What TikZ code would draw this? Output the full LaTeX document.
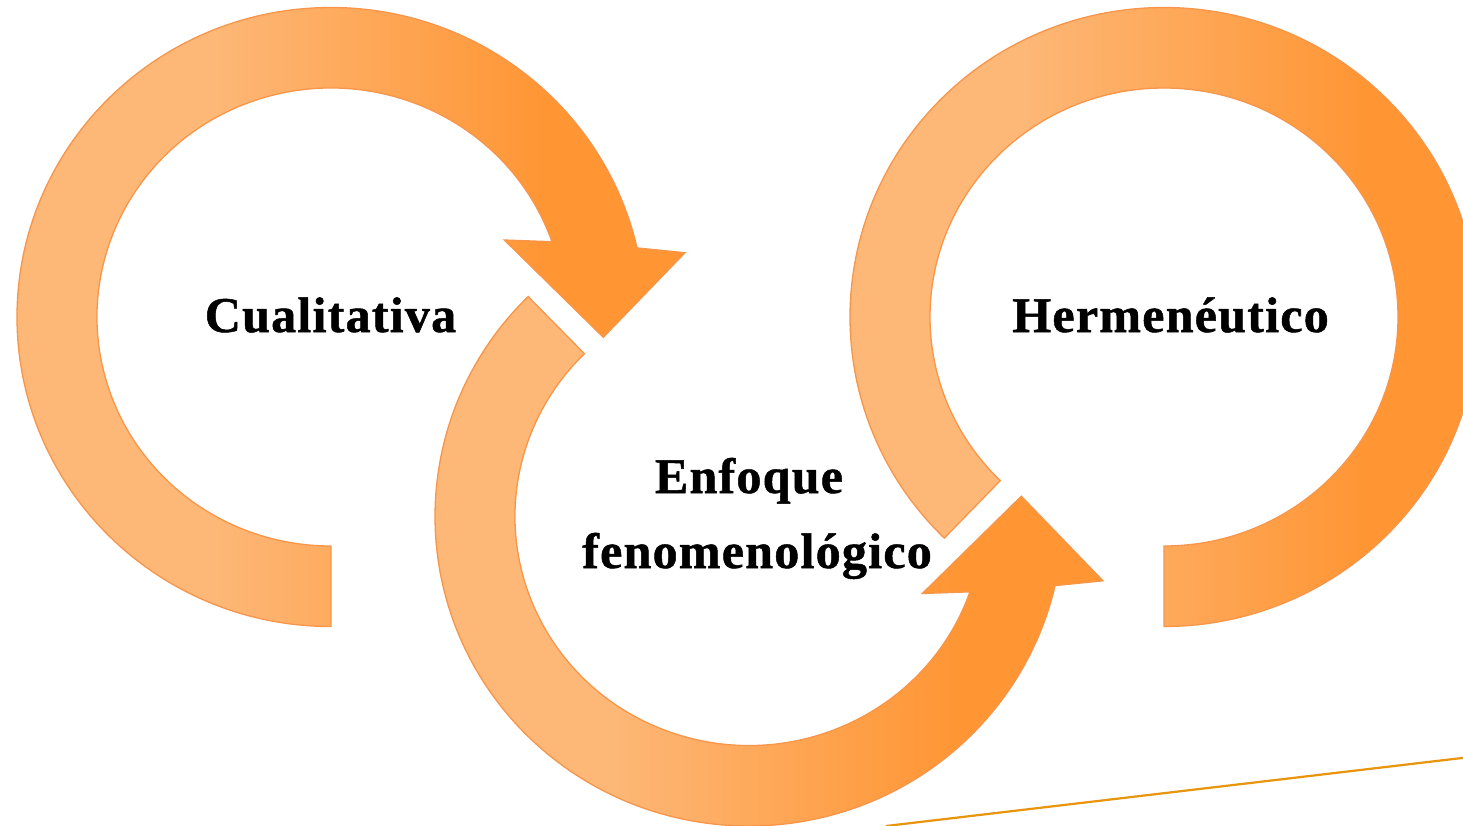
\documentclass[tikz,border=0pt]{standalone}
\usepackage{fontspec}
\newfontfamily\lblfont{Liberation Serif}[LetterSpace=2.5,FakeBold=1]
\definecolor{orlight}{HTML}{FDB776}
\definecolor{ordark}{HTML}{FF9533}
\definecolor{orline}{HTML}{F7964A}
\definecolor{strayor}{HTML}{E8940C}
\pgfdeclarehorizontalshading{orshade}{100bp}{color(0bp)=(orlight); color(40bp)=(orlight); color(65bp)=(ordark); color(100bp)=(ordark)}
\begin{document}
\begin{tikzpicture}[x=1pt,y=-1pt,
  ring/.style={shade, shading=orshade, draw=orline, line width=1.3pt, line join=miter},
  lbl/.style={font=\lblfont\bfseries\fontsize{50}{75}\selectfont, text=black, inner sep=0pt},
  strayline/.style={draw=strayor, line width=2.2pt}]
\useasboundingbox (0,0) rectangle (1463,825);
\fill[white] (0,0) rectangle (1463,825);
\clip (0,0) rectangle (1463,825);

% arrow 1 (left)
\begin{scope}[shift={(331,317)}]
\path[ring] (90:314 and 309.5) arc[start angle=90, end angle=347.1, x radius=314, y radius=309.5]
  -- (354,-64.3) -- (272.3,20.3) -- (173.3,-77)
  -- (340.8:234 and 229) arc[start angle=340.8, end angle=90, x radius=234, y radius=229] -- cycle;
\end{scope}

% arrow 2 (middle)
\begin{scope}[shift={(749,516.5)}]
\path[ring] (225.3:314 and 309.5) arc[start angle=225.3, end angle=12.9, x radius=314, y radius=309.5]
  -- (354,64.3) -- (272.3,-20.3) -- (173.3,77)
  -- (19.2:234 and 229) arc[start angle=19.2, end angle=225.3, x radius=234, y radius=229] -- cycle;
\end{scope}

% arrow 3 (right)
\begin{scope}[shift={(1164,317)}]
\path[ring] (134.4:314 and 309.5) arc[start angle=134.4, end angle=450, x radius=314, y radius=309.5]
  -- (90:234 and 229) arc[start angle=450, end angle=134.4, x radius=234, y radius=229] -- cycle;
\end{scope}

% stray line
\coordinate (s1) at (886,826);
\coordinate (s2) at (1466,757.5);
\draw[strayline] (s1) -- (s2);

% labels
\node[lbl, anchor=base] (cual) at (330.5,332) {Cualitativa};
\node[lbl, anchor=base] (herm) at (1170.5,332) {Hermenéutico};
\node[lbl, anchor=base, align=center] (enf) at (757,568) {Enfoque\hspace*{16pt}\\fenomenológico};
\end{tikzpicture}
\end{document}
